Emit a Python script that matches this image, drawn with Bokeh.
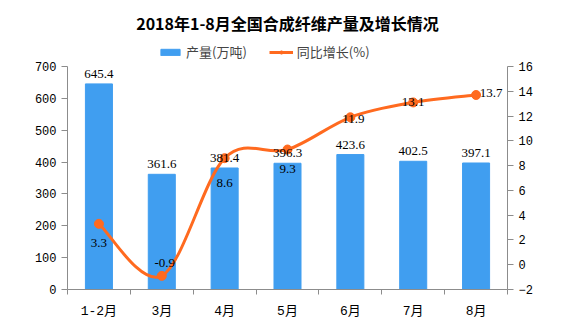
import numpy as np
from bokeh.plotting import figure
from bokeh.layouts import column
from bokeh.models import (Range1d, LinearAxis, FixedTicker, ColumnDataSource,
                          LabelSet, Label, Legend, LegendItem)
from bokeh.embed import file_html
from bokeh.resources import INLINE

# ---- data ----
categories = ["1-2月", "3月", "4月", "5月", "6月", "7月", "8月"]
output = [645.4, 361.6, 381.4, 396.3, 423.6, 402.5, 397.1]
growth = [3.3, -0.9, 8.6, 9.3, 11.9, 13.1, 13.7]
left_ticks = [0, 100, 200, 300, 400, 500, 600, 700]
right_ticks = [-2, 0, 2, 4, 6, 8, 10, 12, 14, 16]
title_text = "2018年1-8月全国合成纤维产量及增长情况"
series_names = ["产量(万吨)", "同比增长(%)"]

# ---- styles ----
BLUE = "#409EF0"
ORANGE = "#FF6A1F"
GRAY = "#8c8c8c"
NUM_FONT = "Liberation Mono, Noto Sans CJK SC"
CJK_FONT = "Noto Sans CJK SC"
growth_label_dx = [0, 3, 0, 0, 3, 0, 15]
growth_label_dy = [-19, 13, -25, -19, -2, 0, 2]

W = 576
TOP_H = 61
n = len(categories)
xs = [i + 0.5 for i in range(n)]

# ---- header figure: title + legend ----
h = figure(width=W, height=TOP_H, output_backend="svg", toolbar_location=None,
           x_range=Range1d(0, W), y_range=Range1d(0, TOP_H),
           min_border=0, min_border_left=0, min_border_right=0,
           min_border_top=0, min_border_bottom=0)
h.axis.visible = False
h.grid.visible = False
h.outline_line_color = None
h.add_layout(Label(x=W / 2, y=TOP_H - 22, text=title_text, text_align="center",
                   text_baseline="middle", text_font=CJK_FONT, text_font_size="16px",
                   text_font_style="bold", text_color="black"))
off = [-1000]  # legend-only renderers, kept outside the visible area
d_bar = h.vbar(x=off, top=off, width=1, color=BLUE)
d_line = h.line(x=[-1000, -999], y=off * 2, line_color=ORANGE, line_width=3)
d_pt = h.scatter(x=off, y=off, size=8, color=ORANGE)
legend = Legend(items=[LegendItem(label=series_names[0], renderers=[d_bar]),
                       LegendItem(label=series_names[1], renderers=[d_line, d_pt])],
                orientation="horizontal", location=(91, 0), border_line_color=None,
                background_fill_alpha=0, label_text_font=CJK_FONT,
                label_text_font_size="13px", glyph_width=24, glyph_height=8,
                label_height=14, padding=0, margin=0, spacing=22, label_standoff=4)
h.add_layout(legend)

# ---- main figure ----
p = figure(width=W, height=327 - TOP_H, output_backend="svg", toolbar_location=None,
           x_range=Range1d(0, n), y_range=Range1d(0, 700),
           min_border_left=67, min_border_right=69, min_border_top=5,
           min_border_bottom=38)
p.extra_y_ranges = {"pct": Range1d(-2, 16)}
p.xgrid.visible = False
p.ygrid.visible = False
p.outline_line_color = None

# bars
src = ColumnDataSource(dict(x=xs, y=output, lbl=[f"{v:.1f}" for v in output]))
bars = p.vbar(x="x", top="y", width=0.43, source=src, color=BLUE)
p.add_layout(LabelSet(x="x", y="y", text="lbl", source=src, text_align="center",
                      text_baseline="middle", y_offset=10, text_font=NUM_FONT,
                      text_font_size="13px", text_color="black"))

# smooth line (Catmull-Rom -> cubic bezier)
g = np.array(growth, dtype=float)
X = np.array(xs, dtype=float)
x0, y0, x1, y1, cx0, cy0, cx1, cy1 = [], [], [], [], [], [], [], []
for i in range(n - 1):
    im = max(i - 1, 0)
    ip = min(i + 2, n - 1)
    x0.append(X[i]); y0.append(g[i]); x1.append(X[i + 1]); y1.append(g[i + 1])
    cx0.append(X[i] + (X[i + 1] - X[im]) / 6); cy0.append(g[i] + (g[i + 1] - g[im]) / 6)
    cx1.append(X[i + 1] - (X[ip] - X[i]) / 6); cy1.append(g[i + 1] - (g[ip] - g[i]) / 6)
p.bezier(x0=x0, y0=y0, x1=x1, y1=y1, cx0=cx0, cy0=cy0, cx1=cx1, cy1=cy1,
         line_color=ORANGE, line_width=3, y_range_name="pct")
gsrc = ColumnDataSource(dict(x=xs, y=growth, lbl=[f"{v:.1f}" for v in growth],
                             dx=growth_label_dx, dy=growth_label_dy))
pts = p.scatter(x="x", y="y", source=gsrc, size=9, color=ORANGE, y_range_name="pct")
p.add_layout(LabelSet(x="x", y="y", text="lbl", source=gsrc, y_range_name="pct",
                      x_offset="dx", y_offset="dy", text_align="center",
                      text_baseline="middle", text_font=NUM_FONT,
                      text_font_size="13px", text_color="black"))

# axes
xa = p.xaxis[0]
xa.ticker = FixedTicker(ticks=xs, minor_ticks=list(range(n + 1)))
xa.major_label_overrides = {x: c for x, c in zip(xs, categories)}
xa.major_tick_line_color = None
xa.minor_tick_out = 5
xa.minor_tick_in = 0
xa.minor_tick_line_color = GRAY
xa.axis_line_color = GRAY
xa.major_label_text_font = NUM_FONT
xa.major_label_text_font_size = "13px"
xa.major_label_standoff = 8
xa.major_label_text_color = "black"

ya = p.yaxis[0]
ya.ticker = FixedTicker(ticks=left_ticks)
ya.minor_tick_line_color = None
ya.axis_line_color = GRAY
ya.major_tick_line_color = GRAY
ya.major_tick_out = 6
ya.major_tick_in = 0
ya.major_label_text_font = NUM_FONT
ya.major_label_text_font_size = "12px"
ya.major_label_text_color = "black"

ra = LinearAxis(y_range_name="pct", ticker=FixedTicker(ticks=right_ticks))
ra.minor_tick_line_color = None
ra.axis_line_color = GRAY
ra.major_tick_line_color = GRAY
ra.major_tick_out = 6
ra.major_tick_in = 0
ra.major_label_text_font = NUM_FONT
ra.major_label_text_font_size = "12px"
ra.major_label_text_color = "black"
p.add_layout(ra, "right")

layout = column(h, p, spacing=0)
open("out.html", "w").write(file_html(layout, INLINE))
